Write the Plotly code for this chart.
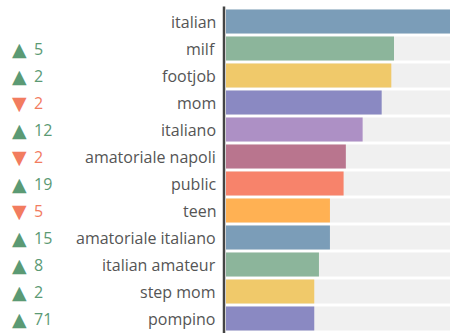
import plotly.graph_objects as go

categories = ["italian", "milf", "footjob", "mom", "italiano", "amatoriale napoli",
              "public", "teen", "amatoriale italiano", "italian amateur", "step mom", "pompino"]
values = [100, 75, 73.8, 69.5, 61, 53.5, 52.5, 46.4, 46.4, 41.5, 39.4, 39.4]
changes = [None, 5, 2, -2, 12, -2, 19, -5, 15, 8, 2, 71]
colors = ["#7b9db8", "#8cb59b", "#f0c96a", "#8a89c2", "#ad90c5", "#b9758e",
          "#f7836b", "#ffb153", "#7b9db8", "#8cb59b", "#f0c96a", "#8a89c2"]
max_value = 100

fig = go.Figure()
fig.add_trace(go.Bar(y=categories, x=[max_value] * len(categories), orientation="h",
                     marker=dict(color="#f0f0f0", line=dict(width=0)), hoverinfo="skip"))
fig.add_trace(go.Bar(y=categories, x=values, orientation="h",
                     marker=dict(color=colors, line=dict(width=0))))

W = 224.0
def px2paper(p):
    return (p - 226) / W

font = "Open Sans, sans-serif"
ann = []
for c, ch in zip(categories, changes):
    ann.append(dict(x=0, xref="paper", y=c, yref="y", text=c, showarrow=False,
                    xanchor="right", xshift=-8, font=dict(family=font, size=16, color="#555555")))
    if ch is not None:
        col = "#5b9a74" if ch > 0 else "#f27c5f"
        sym = "▲" if ch > 0 else "▼"
        ann.append(dict(x=px2paper(19.5), xref="paper", y=c, yref="y", text=sym, showarrow=False,
                        xanchor="center", font=dict(family="DejaVu Sans", size=19, color=col)))
        ann.append(dict(x=px2paper(32), xref="paper", y=c, yref="y", text=str(abs(ch)),
                        showarrow=False, xanchor="left", font=dict(family=font, size=16, color=col)))

fig.update_layout(
    width=450, height=333, margin=dict(l=226, r=0, t=8, b=1),
    barmode="overlay", bargap=0.11, showlegend=False,
    plot_bgcolor="white", paper_bgcolor="white",
    xaxis=dict(range=[0, max_value], visible=False, fixedrange=True),
    yaxis=dict(autorange="reversed", showticklabels=False, ticks="", showgrid=False,
               zeroline=False, showline=False),
    annotations=ann,
    shapes=[dict(type="line", xref="paper", yref="paper", x0=px2paper(224), x1=px2paper(224),
                 y0=-0.01, y1=1.005, line=dict(color="#444444", width=2.5))],
)
fig.write_html("out.html")
